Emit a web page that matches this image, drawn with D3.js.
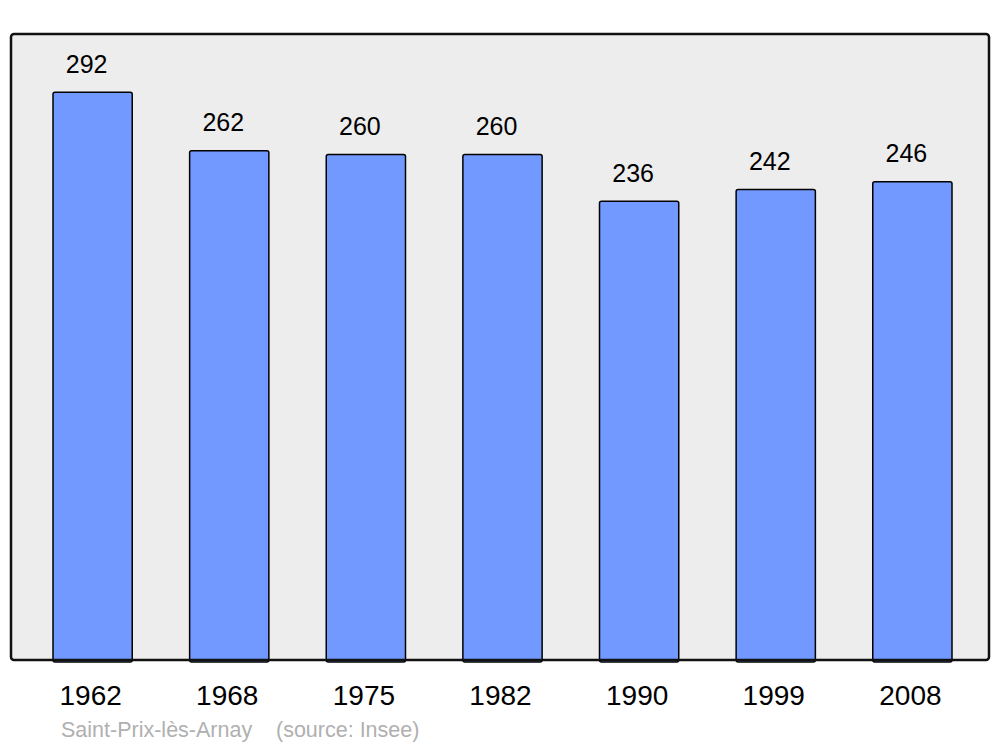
<!DOCTYPE html>
<html>
<head>
<meta charset="utf-8">
<script src="https://cdn.jsdelivr.net/npm/d3@7"></script>
<style>
  body { margin: 0; background: #fff; }
  text { font-family: "Liberation Sans", Arial, sans-serif; }
</style>
</head>
<body>
<svg id="chart" width="1000" height="747"></svg>
<script>
'use strict';

var years = ['1962', '1968', '1975', '1982', '1990', '1999', '2008'];
var population = [292, 262, 260, 260, 236, 242, 246];
var commune = 'Saint-Prix-lès-Arnay';
var source = '(source: Insee)';

var svg = d3.select('#chart');

var FRAME_LEFT = 11, FRAME_RIGHT = 989, FRAME_TOP = 34, FRAME_BOTTOM = 660;

// Scales
var x = d3.scaleBand()
    .domain(years)
    .range([53, 952])
    .paddingInner(0.42)
    .paddingOuter(0);
var y = d3.scaleLinear()
    .domain([0, 322])
    .range([FRAME_BOTTOM, FRAME_TOP]);

// Frame background
svg.append('rect')
    .attr('x', FRAME_LEFT)
    .attr('y', FRAME_TOP)
    .attr('width', FRAME_RIGHT - FRAME_LEFT)
    .attr('height', FRAME_BOTTOM - FRAME_TOP)
    .attr('rx', 3)
    .style('fill', '#ededed')
    .style('stroke', 'none');

// Bars
svg.append('g').selectAll('rect')
    .data(population)
    .enter().append('rect')
    .attr('x', function(d, i) { return x(years[i]); })
    .attr('y', function(d) { return y(d); })
    .attr('width', x.bandwidth())
    .attr('height', function(d) { return y(0) - y(d) + 2; })
    .attr('rx', 2)
    .style('fill', '#7299ff')
    .style('stroke', '#000')
    .style('stroke-width', 1.5);

// Value labels
svg.append('g').selectAll('text')
    .data(population)
    .enter().append('text')
    .attr('x', function(d, i) { return x(years[i]) + x.bandwidth() / 2 - 6; })
    .attr('y', function(d) { return y(d) - 19.5; })
    .attr('text-anchor', 'middle')
    .style('font-size', '25px')
    .style('fill', '#000')
    .text(function(d) { return d; });

// Frame border (drawn on top)
svg.append('rect')
    .attr('x', FRAME_LEFT)
    .attr('y', FRAME_TOP)
    .attr('width', FRAME_RIGHT - FRAME_LEFT)
    .attr('height', FRAME_BOTTOM - FRAME_TOP)
    .attr('rx', 3)
    .style('fill', 'none')
    .style('stroke', '#111')
    .style('stroke-width', 2.5);

// x axis labels
var xAxis = d3.axisBottom(x).tickSize(0).tickPadding(0);
var xAxisElement = svg.append('g')
    .attr('transform', 'translate(-2,' + 705 + ')')
    .call(xAxis);
xAxisElement.select('.domain').remove();
xAxisElement.selectAll('text')
    .attr('dy', 0)
    .attr('y', 0)
    .style('font-family', '"Liberation Sans", Arial, sans-serif')
    .style('font-size', '28px')
    .style('fill', '#000');

// Source line
svg.append('text')
    .attr('x', 61)
    .attr('y', 737)
    .style('font-size', '21.5px')
    .style('fill', '#b0b0b0')
    .text(commune);
svg.append('text')
    .attr('x', 276)
    .attr('y', 737)
    .style('font-size', '21.5px')
    .style('fill', '#b0b0b0')
    .text(source);
</script>
</body>
</html>
